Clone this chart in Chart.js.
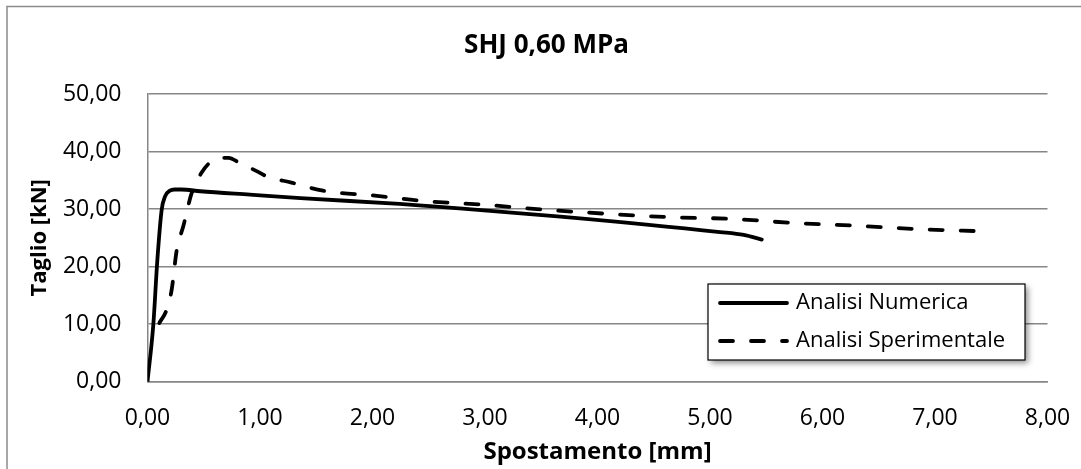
<!DOCTYPE html>
<html>
<head>
<meta charset="utf-8">
<script src="https://cdn.jsdelivr.net/npm/chart.js@4/dist/chart.umd.min.js"></script>
<style>
  html, body { margin: 0; padding: 0; background: #fff; overflow: hidden; }
  #wrap { position: relative; width: 1081px; height: 469px; }
</style>
</head>
<body>
<div id="wrap"><canvas id="c" width="1081" height="469"></canvas></div>
<script>
// ---- data ----
const chartTitle = 'SHJ 0,60 MPa';
const xAxisTitle = 'Spostamento [mm]';
const yAxisTitle = 'Taglio [kN]';

const numLabel = 'Analisi Numerica';
const numX = [0, 0.052, 0.087, 0.126, 0.156, 0.2, 0.24, 0.3, 0.47, 0.91, 1.36, 2.24, 2.51, 3.67, 5.09, 5.3, 5.46];
const numY = [0, 10, 21, 29.9, 32.2, 33.2, 33.4, 33.4, 33.1, 32.5, 31.9, 30.9, 30.5, 28.7, 26.0, 25.5, 24.7];

const expLabel = 'Analisi Sperimentale';
const expX = [0.105, 0.17, 0.215, 0.26, 0.318, 0.393, 0.48, 0.57, 0.72, 0.82, 0.97, 1.06, 1.28, 1.56, 2.04, 2.45, 2.96, 3.52, 4.07, 4.63, 5.18, 5.74, 6.3, 6.87, 7.5];
const expY = [10.2, 12.5, 16.0, 22.9, 27.0, 32.8, 36.3, 38.3, 38.9, 38.0, 36.6, 35.7, 34.6, 33.2, 32.3, 31.4, 30.8, 29.9, 29.2, 28.6, 28.3, 27.6, 27.1, 26.5, 26.1];

const xTickValues = [0, 1, 2, 3, 4, 5, 6, 7, 8];
const xTickLabels = ['0,00', '1,00', '2,00', '3,00', '4,00', '5,00', '6,00', '7,00', '8,00'];
const yTickValues = [0, 10, 20, 30, 40, 50];
const yTickLabels = ['0,00', '10,00', '20,00', '30,00', '40,00', '50,00'];

// ---- build ----
const toPoints = (xs, ys) => xs.map((x, i) => ({ x: x, y: ys[i] }));
const FONT = '"Open Sans", "Noto Sans", sans-serif';
const GRID = '#868686';

const framePlugin = {
  id: 'frame',
  beforeDraw(chart) {
    const ctx = chart.ctx;
    ctx.save();
    ctx.fillStyle = '#fff';
    ctx.fillRect(0, 0, chart.width, chart.height);
    ctx.strokeStyle = '#8c8c8c';
    ctx.lineWidth = 1.5;
    ctx.strokeRect(7, 6.5, 1300, 1300);
    ctx.restore();
  }
};

const boxLegendPlugin = {
  id: 'boxLegend',
  afterDraw(chart) {
    const { ctx, chartArea } = chart;
    const w = 317, h = 76;
    const x = chartArea.right - 22.5 - w;
    const y = chartArea.bottom - 21.7 - h;
    ctx.save();
    ctx.shadowColor = 'rgba(0,0,0,0.45)';
    ctx.shadowBlur = 6;
    ctx.shadowOffsetX = 3;
    ctx.shadowOffsetY = 3;
    ctx.fillStyle = '#fff';
    ctx.fillRect(x, y, w, h);
    ctx.shadowColor = 'transparent';
    ctx.shadowBlur = 0;
    ctx.shadowOffsetX = 0;
    ctx.shadowOffsetY = 0;
    ctx.strokeStyle = '#000';
    ctx.lineWidth = 1.2;
    ctx.strokeRect(x, y, w, h);
    chart.data.datasets.forEach((ds, i) => {
      const ly = y + 19 + i * 38;
      ctx.beginPath();
      ctx.setLineDash(ds.borderDash || []);
      ctx.lineCap = ds.borderCapStyle || 'butt';
      ctx.lineWidth = ds.borderWidth;
      ctx.strokeStyle = ds.borderColor;
      ctx.moveTo(x + 12, ly);
      ctx.lineTo(x + 79, ly);
      ctx.stroke();
      ctx.setLineDash([]);
      ctx.fillStyle = '#000';
      ctx.font = '22px ' + FONT;
      ctx.textBaseline = 'middle';
      ctx.textAlign = 'left';
      ctx.fillText(ds.label, x + 88, ly);
    });
    ctx.restore();
  }
};

new Chart(document.getElementById('c'), {
  type: 'scatter',
  data: {
    datasets: [
      {
        label: numLabel,
        data: toPoints(numX, numY),
        showLine: true,
        borderColor: '#000',
        backgroundColor: '#000',
        borderWidth: 3.8,
        borderCapStyle: 'round',
        borderJoinStyle: 'round',
        pointRadius: 0,
        cubicInterpolationMode: 'monotone'
      },
      {
        label: expLabel,
        data: toPoints(expX, expY),
        showLine: true,
        borderColor: '#000',
        backgroundColor: '#000',
        borderWidth: 3.8,
        borderDash: [13, 18],
        borderCapStyle: 'round',
        borderJoinStyle: 'round',
        pointRadius: 0,
        cubicInterpolationMode: 'monotone'
      }
    ]
  },
  options: {
    responsive: false,
    animation: false,
    devicePixelRatio: 1,
    layout: { padding: { left: 12, right: 0, top: 0, bottom: 0 } },
    plugins: {
      legend: { display: false },
      tooltip: { enabled: false },
      title: {
        display: true,
        text: chartTitle,
        color: '#000',
        font: { family: FONT, size: 26, weight: 'bold' },
        padding: { top: 30, bottom: 32.8 }
      }
    },
    scales: {
      x: {
        type: 'linear',
        min: 0,
        max: 8,
        afterFit(scale) { scale.height = 87.3; scale.paddingRight = 33.5; },
        afterBuildTicks(scale) { scale.ticks = xTickValues.map(v => ({ value: v })); },
        ticks: {
          color: '#000',
          padding: 23,
          font: { family: FONT, size: 23 },
          maxRotation: 0,
          callback: (v) => xTickLabels[xTickValues.indexOf(v)]
        },
        grid: { display: false, drawTicks: false },
        border: { display: true, color: GRID, width: 1.5 },
        title: {
          display: true,
          text: xAxisTitle,
          color: '#000',
          font: { family: FONT, size: 24, weight: 'bold' },
          padding: { top: 0, bottom: 2 }
        }
      },
      y: {
        type: 'linear',
        min: 0,
        max: 50,
        afterFit(scale) { scale.width = 135.5; },
        afterBuildTicks(scale) { scale.ticks = yTickValues.map(v => ({ value: v })); },
        ticks: {
          color: '#000',
          padding: 26,
          font: { family: FONT, size: 23 },
          callback: (v) => yTickLabels[yTickValues.indexOf(v)]
        },
        grid: { display: true, color: GRID, lineWidth: 1.5, drawTicks: false },
        border: { display: true, color: GRID, width: 1.5 },
        title: {
          display: true,
          text: yAxisTitle,
          color: '#000',
          font: { family: FONT, size: 22, weight: 'bold' },
          padding: { top: 15, bottom: 0 }
        }
      }
    }
  },
  plugins: [framePlugin, boxLegendPlugin]
});
</script>
</body>
</html>
